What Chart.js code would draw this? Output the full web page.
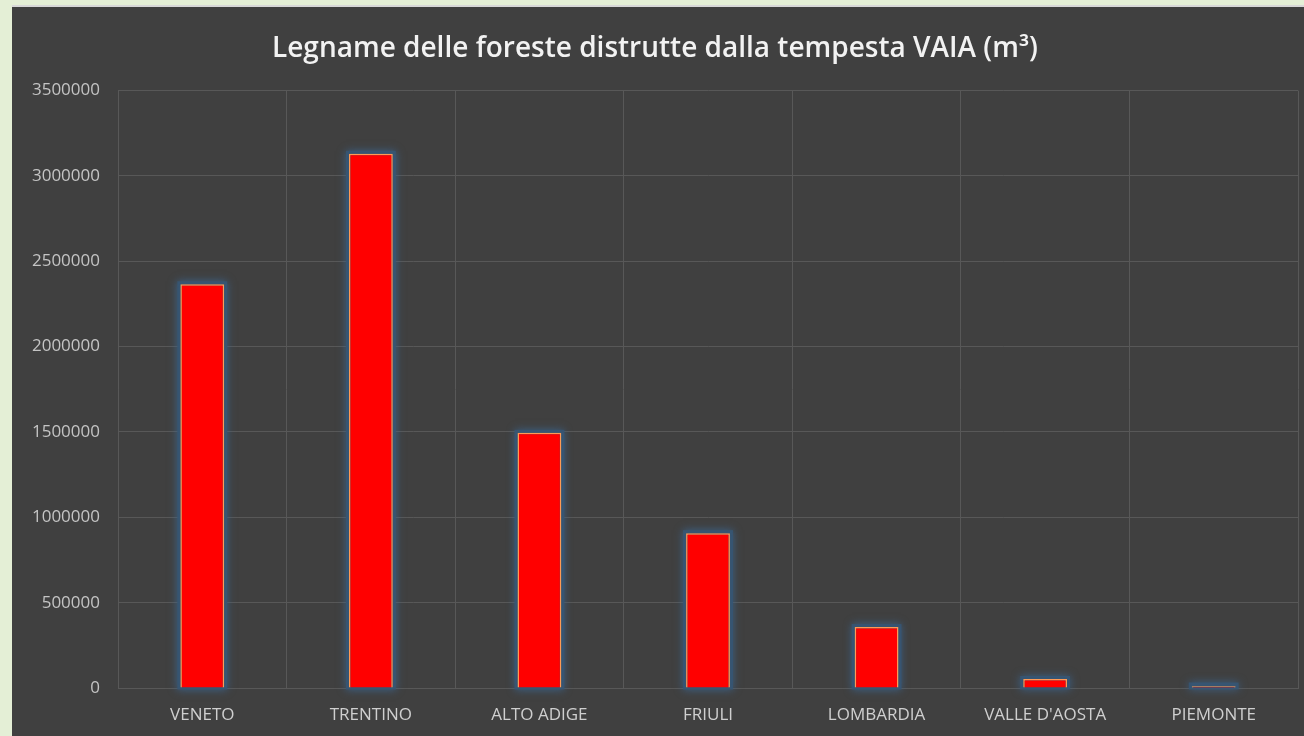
<!DOCTYPE html>
<html>
<head>
<meta charset="utf-8">
<script src="https://cdn.jsdelivr.net/npm/chart.js@4/dist/chart.umd.min.js"></script>
<style>
  html, body { margin: 0; padding: 0; background: #e4efd6; }
  #panel {
    position: absolute; left: 12px; top: 5px; width: 1292px; height: 731px;
    background: #404040; border-top: 2px solid #d8d8d8; box-sizing: border-box;
  }
  #chart { display: block; }
</style>
</head>
<body>
<div id="panel"><canvas id="chart" width="1292" height="729"></canvas></div>
<script>
var regioni = ['VENETO', 'TRENTINO', 'ALTO ADIGE', 'FRIULI', 'LOMBARDIA', "VALLE D'AOSTA", 'PIEMONTE'];
var legname = [2365000, 3130000, 1495000, 907000, 357000, 53000, 10000];
var titolo = 'Legname delle foreste distrutte dalla tempesta VAIA (m\u00b3)';

// bagliore azzurro attorno alle barre, disegnato sotto di esse
var glow = {
  id: 'glow',
  beforeDatasetsDraw: function(chart) {
    var c = chart.ctx;
    var bars = chart.getDatasetMeta(0).data;
    c.save();
    c.shadowColor = 'rgba(60,100,140,0.95)';
    c.shadowBlur = 8;
    c.fillStyle = 'rgba(55,85,115,0.95)';
    bars.forEach(function(b) {
      var h = Math.max(b.base - b.y, 2);
      c.fillRect(b.x - b.width / 2 - 3, b.base - h - 3, b.width + 6, h + 5);
    });
    c.restore();
  }
};

var ctx = document.getElementById('chart');
var grafico = new Chart(ctx, {
  type: 'bar',
  data: {
    labels: regioni,
    datasets: [{
      data: legname,
      backgroundColor: '#ff0000',
      borderColor: '#ff9a55',
      borderWidth: 1.5,
      barPercentage: 0.26,
      categoryPercentage: 1
    }]
  },
  options: {
    responsive: false,
    animation: false,
    layout: { padding: { left: 0, right: 6, top: 0, bottom: 0 } },
    plugins: {
      legend: { display: false },
      tooltip: { enabled: false },
      title: {
        display: true,
        text: titolo,
        color: '#f2f2f2',
        font: { family: 'Open Sans', size: 28, weight: '600' },
        padding: { top: 25, bottom: 25 }
      }
    },
    scales: {
      x: {
        grid: { color: '#585858', lineWidth: 1, drawTicks: false, offset: true },
        border: { color: '#585858' },
        afterFit: function(scale) { scale.height = 48; },
        ticks: { color: '#cfcfcf', font: { family: 'Open Sans', size: 17 }, padding: 17 }
      },
      y: {
        min: 0,
        max: 3500000,
        grid: { color: '#585858', lineWidth: 1, drawTicks: false },
        border: { color: '#585858' },
        afterFit: function(scale) { scale.width = 106; },
        ticks: {
          stepSize: 500000,
          color: '#c4c4c4',
          font: { family: 'Open Sans', size: 17 },
          padding: 18,
          callback: function(v) { return String(v); }
        }
      }
    }
  },
  plugins: [glow]
});
</script>
</body>
</html>
